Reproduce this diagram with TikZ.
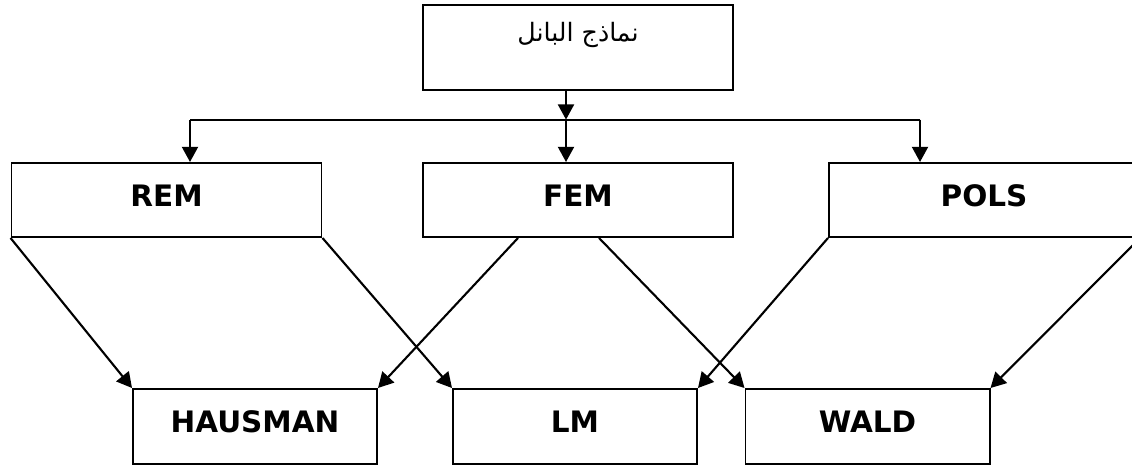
\documentclass[tikz,border=0pt]{standalone}
\usepackage{fontspec}
\setmainfont{DejaVu Sans}
\newfontfamily\arabicfont[Script=Arabic]{DejaVu Sans}
\TeXXeTstate=1
\usepackage{tikz}
\usetikzlibrary{positioning,calc,arrows.meta}

\tikzset{
    modelbox/.style={draw, line width=1.4pt, inner sep=0pt, minimum width=7.75cm,
        text height=1.1cm, text depth=0.75cm, font=\fontsize{21}{25}\selectfont\bfseries},
    testbox/.style={modelbox, minimum width=6.1cm, text depth=0.775cm},
    link/.style={line width=1.5pt, -{Triangle[length=0.38cm,width=0.4cm]}}
}

\begin{document}
\begin{tikzpicture}
    \useasboundingbox (0,0) rectangle (28.3,11.7);

    % Top box
    \node [draw, line width=1.4pt, inner sep=0pt, minimum width=7.75cm,
        text height=0.9cm, text depth=1.225cm, font=\fontsize{18}{22}\selectfont]
        (panel) at (14.45,10.51) {\arabicfont\beginR نماذج البانل\endR};

    % Models
    \node [modelbox] (rem)  at (4.1625,6.7) {REM};
    \node [modelbox] (fem)  at (14.45,6.7) {FEM};
    \node [modelbox] (pols) at (24.6,6.7) {POLS};

    % Tests
    \node [testbox] (hausman) at (6.375,1.0375) {HAUSMAN};
    \node [testbox] (lm)      at (14.375,1.0375) {LM};
    \node [testbox] (wald)    at (21.6875,1.0375) {WALD};

    % Bus
    \coordinate (bus)  at (14.15,8.71);
    \coordinate (busL) at (4.75,8.71);
    \coordinate (busR) at (23.0,8.71);
    \draw [link] (panel.south -| bus) -- (bus);
    \draw [line width=1.5pt] (busL) -- (busR);
    \draw [link] (busL) -- (busL |- rem.north);
    \draw [link] (bus) -- (bus |- fem.north);
    \draw [link] (busR) -- (busR |- pols.north);

    % Model to test
    \draw [link] (rem.south west) -- (hausman.north west);
    \draw [link] (rem.south east) -- (lm.north west);
    \draw [link] ([xshift=-1.5cm]fem.south) -- (hausman.north east);
    \draw [link] ([xshift=0.525cm]fem.south) -- (wald.north west);
    \draw [link] (pols.south west) -- (lm.north east);
    \draw [link] (pols.south east) -- (wald.north east);
\end{tikzpicture}
\end{document}
